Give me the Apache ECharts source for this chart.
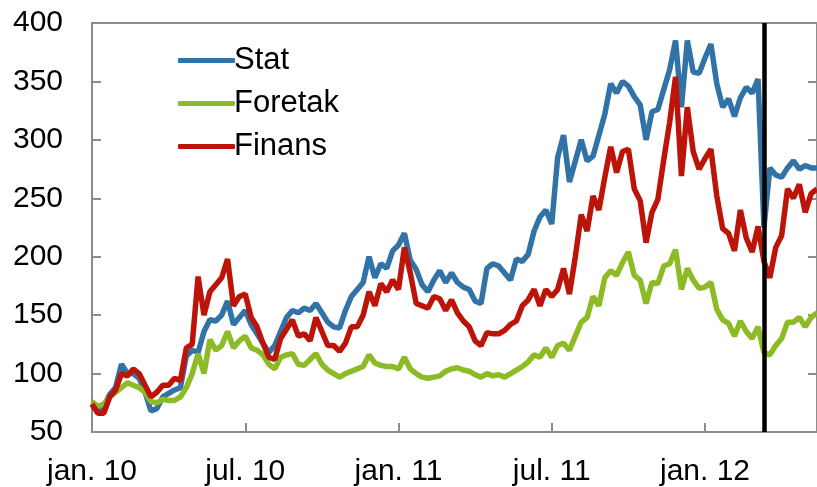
<!DOCTYPE html>
<html>
<head>
<meta charset="utf-8">
<script src="https://cdn.jsdelivr.net/npm/echarts@6/dist/echarts.min.js"></script>
<style>html,body{margin:0;padding:0;background:#fff;}#c{width:817px;height:487px;}</style>
</head>
<body>
<div id="c"></div>
<script>
// Weekly observations (Fridays) from 2010-01-01 to 2012-05-11
const startDate = '2010-01-01';
const weekCount = 124;
const weeks = [];
(function () {
  const d0 = new Date(startDate + 'T00:00:00Z');
  for (let i = 0; i < weekCount; i++) {
    const d = new Date(d0.getTime() + i * 7 * 86400000);
    weeks.push(d.toISOString().slice(0, 10));
  }
})();

// x-axis tick labels (category -> label)
const tickDates = ['2010-01-01', '2010-07-02', '2010-12-31', '2011-07-01', '2011-12-30'];
const tickLabels = ['jan. 10', 'jul. 10', 'jan. 11', 'jul. 11', 'jan. 12'];

// vertical marker
const markerDate = '2012-03-09';

const seriesNames = ['Stat', 'Foretak', 'Finans'];

const stat = [
  74, 68, 72, 82, 88, 108, 100, 100, 96, 84,
  68, 70, 80, 83, 86, 88, 115, 120, 118, 136,
  146, 145, 150, 162, 142, 148, 154, 142, 134, 126,
  118, 124, 136, 148, 154, 152, 156, 154, 160, 152,
  144, 140, 139, 154, 166, 172, 178, 200, 182, 194,
  190, 205, 210, 220, 197, 189, 176, 170, 180, 188,
  178, 186, 178, 174, 172, 162, 160, 190, 194, 192,
  186, 180, 198, 196, 202, 222, 234, 240, 228, 285,
  304, 264, 282, 300, 282, 286, 304, 322, 348, 340,
  350, 346, 337, 330, 300, 324, 326, 343, 360, 385,
  328, 385, 358, 357, 370, 382, 348, 328, 335, 320,
  336, 345, 340, 352, 225, 276, 270, 268, 276, 282,
  275, 278, 276, 276
];

const foretak = [
  76, 72, 74, 80, 84, 88, 92, 90, 88, 84,
  76, 75, 78, 77, 77, 80, 88, 100, 117, 100,
  129, 120, 124, 136, 122, 128, 132, 122, 120, 116,
  108, 104, 114, 116, 117, 108, 107, 112, 117, 108,
  103, 100, 97, 100, 102, 104, 106, 116, 109, 107,
  106, 106, 104, 114, 104, 100, 97, 96, 97, 98,
  102, 104, 105, 103, 102, 99, 97, 100, 98, 99,
  97, 100, 103, 106, 110, 116, 114, 122, 114, 124,
  126, 120, 132, 144, 148, 166, 158, 182, 188, 184,
  195, 204, 184, 180, 160, 178, 177, 192, 194, 206,
  172, 190, 180, 173, 174, 178, 155, 146, 143, 132,
  145, 136, 130, 140, 118, 116, 124, 130, 144, 144,
  148, 140, 148, 152
];

const finans = [
  74, 66, 66, 80, 86, 100, 98, 104, 100, 90,
  80, 84, 90, 90, 96, 94, 122, 125, 183, 150,
  170, 176, 182, 198, 158, 166, 168, 148, 140, 126,
  114, 112, 130, 138, 146, 132, 134, 128, 148, 136,
  124, 124, 119, 126, 140, 140, 150, 170, 158, 177,
  170, 180, 172, 208, 186, 160, 158, 156, 166, 164,
  154, 163, 152, 145, 140, 128, 124, 135, 134, 134,
  137, 142, 145, 158, 163, 172, 158, 172, 166, 172,
  190, 168, 200, 236, 222, 252, 240, 268, 294, 272,
  290, 292, 258, 248, 212, 238, 249, 283, 315, 354,
  269, 328, 290, 275, 284, 292, 252, 224, 220, 205,
  240, 216, 204, 226, 196, 182, 208, 218, 258, 250,
  262, 238, 254, 258
];

const colors = ['#3172A7', '#8DBB25', '#BC1409'];
const font = 'Liberation Sans, Arial, sans-serif';

const chart = echarts.init(document.getElementById('c'), null, { renderer: 'canvas' });
const isTick = (idx, val) => tickDates.indexOf(val) >= 0;

chart.setOption({
  animation: false,
  color: colors,
  grid: { left: 92, right: -3, top: 23, bottom: 55, show: true, borderColor: '#8c8c8c', borderWidth: 2 },
  legend: {
    orient: 'vertical',
    left: 173,
    top: 40,
    itemWidth: 57,
    itemHeight: 5,
    itemGap: 12,
    icon: 'roundRect',
    textStyle: { fontFamily: font, fontSize: 31, color: '#000', padding: [0, 0, 0, -6] },
    data: seriesNames
  },
  xAxis: {
    type: 'category',
    data: weeks,
    boundaryGap: false,
    axisLine: { lineStyle: { color: '#8c8c8c', width: 2 } },
    axisTick: { inside: true, length: 9, interval: isTick, lineStyle: { color: '#8c8c8c', width: 2 } },
    axisLabel: {
      interval: isTick,
      formatter: v => tickLabels[tickDates.indexOf(v)] || '',
      fontFamily: font, fontSize: 30, color: '#000', margin: 25
    },
    splitLine: { show: false }
  },
  yAxis: [{
    type: 'value', min: 50, max: 400, interval: 50,
    axisLine: { show: true, lineStyle: { color: '#8c8c8c', width: 2 } },
    axisTick: { show: true, inside: true, length: 9, lineStyle: { color: '#8c8c8c', width: 2 } },
    axisLabel: { fontFamily: font, fontSize: 30, color: '#000', margin: 29 },
    splitLine: { show: false }
  }, {
    type: 'value', min: 50, max: 400, interval: 50, position: 'right',
    axisLine: { show: true, lineStyle: { color: '#8c8c8c', width: 2 } },
    axisTick: { show: true, inside: true, length: 9, lineStyle: { color: '#8c8c8c', width: 2 } },
    axisLabel: { show: false },
    splitLine: { show: false }
  }],
  series: [
    { name: seriesNames[0], type: 'line', data: stat, symbol: 'none', lineStyle: { width: 5.5, color: colors[0] }, z: 2 },
    { name: seriesNames[1], type: 'line', data: foretak, symbol: 'none', lineStyle: { width: 5.5, color: colors[1] }, z: 3 },
    { name: seriesNames[2], type: 'line', data: finans, symbol: 'none', lineStyle: { width: 5.5, color: colors[2] }, z: 4,
      markLine: {
        silent: true, symbol: ['none', 'none'], label: { show: false },
        lineStyle: { color: '#000', width: 4.5, type: 'solid' },
        data: [{ xAxis: markerDate }]
      }
    }
  ]
});
</script>
</body>
</html>
